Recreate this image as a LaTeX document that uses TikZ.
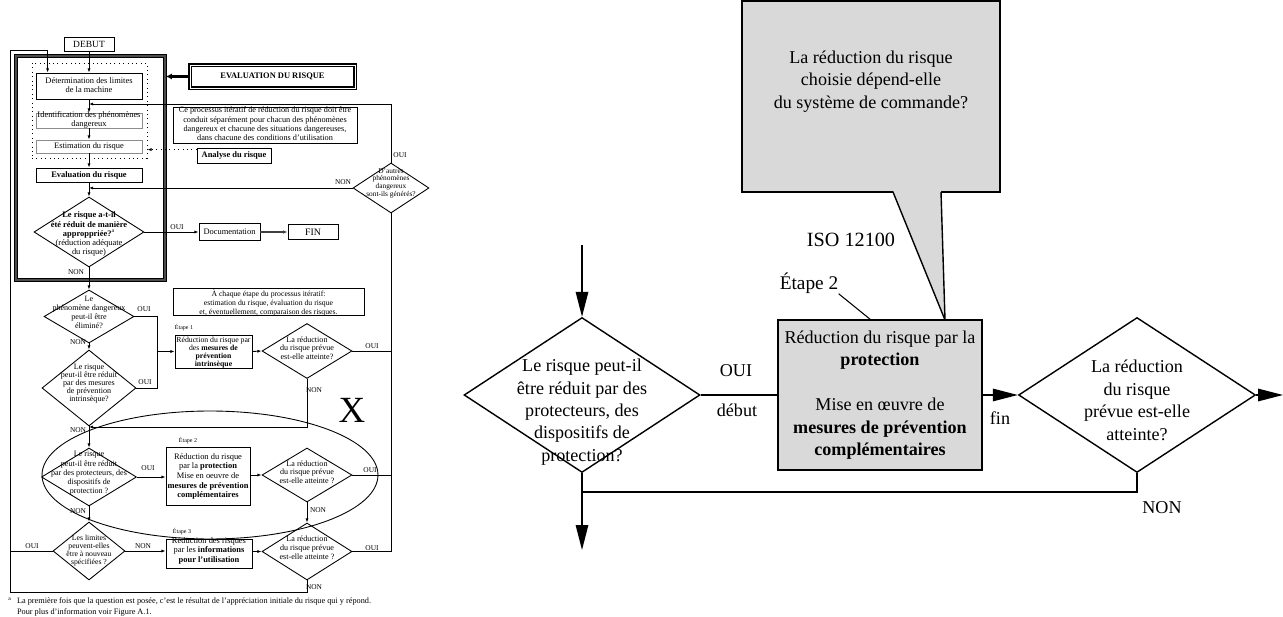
\documentclass[tikz,border=0pt]{standalone}
\usepackage{fontspec}
\setmainfont{Liberation Serif}
\usetikzlibrary{shapes.geometric,arrows.meta,calc}
\newcommand{\fsz}[2]{\fontsize{#1}{#2}\selectfont}
\newcommand{\dt}[2][0pt]{\smash{\makebox[0pt]{\raisebox{\dimexpr#1-0.25em\relax}{\begin{tabular}{@{}c@{}}#2\end{tabular}}}}}
\begin{document}
\begin{tikzpicture}[x=0.02cm,y=-0.02cm,
    every node/.style={inner sep=0pt},
    box/.style={draw,rectangle,line width=0.5pt,align=center},
    dia/.style={draw,diamond,line width=0.5pt},
    ln/.style={line width=0.5pt},
    ar/.style={line width=0.5pt,-{Latex[length=2.4pt,width=1.8pt]}},
    lab/.style={font=\fsz{4.2}{5}},
    stp/.style={font=\fsz{3.4}{4}},
    big/.style={font=\fsz{10.3}{12.8}},
    bln/.style={line width=0.8pt},
    bar/.style={line width=0.8pt,-{Triangle[length=0.5cm,width=0.25cm]}},
    greybox/.style={draw,fill=black!15,line width=0.8pt}]
  \useasboundingbox (0,0) rectangle (1283,617);

  %% left chart: analysis part
  \node[box,minimum width=1.0cm,minimum height=0.28cm,font=\fsz{5.4}{6}] (debut) at (89,44) {DEBUT};
  \node[draw,line width=0.9pt,double=black!70,double distance=0.7pt,minimum width=2.98cm,minimum height=4.48cm] (frame) at (90.5,168) {};
  \node[draw,dotted,line width=0.5pt,minimum width=2.3cm,minimum height=1.9cm] (anal) at (89.5,110.5) {};
  \node[box,minimum width=2.12cm,minimum height=0.52cm,font=\fsz{4.8}{5.4}] (b1) at (89,86) {\dt{Détermination des limites\\de la machine}};
  \node[box,draw=black!45,minimum width=2.12cm,minimum height=0.3cm,font=\fsz{4.8}{5.2}] (b2) at (89,120.5) {\dt{Identification des phénomènes\\dangereux}};
  \node[box,draw=black!45,minimum width=2.12cm,minimum height=0.26cm,font=\fsz{4.8}{5.4}] (b3) at (89,146.5) {Estimation du risque};
  \node[box,minimum width=2.12cm,minimum height=0.28cm,font=\bfseries\fsz{4.8}{5.4}] (b4) at (89,175) {Evaluation du risque};
  \node[draw,line width=0.7pt,double,double distance=0.5pt,minimum width=3.3cm,minimum height=0.46cm,font=\bfseries\fsz{4.8}{5.4}] (evalb) at (272.5,76.5) {EVALUATION DU RISQUE};
  \node[box,minimum width=3.68cm,minimum height=0.72cm,font=\fsz{4.7}{5.3}] (iter) at (265,125) {\dt{Ce processus itératif de réduction du risque doit être\\conduit séparément pour chacun des phénomènes\\dangereux et chacune des situations dangereuses,\\dans chacune des conditions d'utilisation}};
  \node[box,minimum width=1.48cm,minimum height=0.3cm,font=\bfseries\fsz{4.8}{5.4}] (analyse) at (234,155.5) {Analyse du risque};
  \draw[line width=1.4pt,-{Latex[length=3.5pt,width=3.5pt]}] (evalb.west) -- (frame.east |- evalb.west);
  \coordinate (dotA) at ([yshift=-0.04cm]analyse.north west);
  \draw[dotted,ar] (dotA) -- (anal.east |- dotA);
  \draw[ar] (debut) -- (b1);
  \draw[ar] (b1) -- (b2);
  \draw[ar] (b2) -- (b3);
  \draw[ar] (b3) -- (b4);

  %% left chart: decisions
  \node[dia,minimum width=1.52cm,minimum height=1.0cm,font=\fsz{4.2}{4.4}] (d0) at (391,188) {\dt[2.5pt]{D'autres\\phénomènes\\dangereux\\sont-ils générés?}};
  \node[dia,minimum width=2.2cm,minimum height=1.4cm,font=\fsz{4.8}{5.2}] (d1) at (89,232) {\dt[-1.4pt]{\textbf{Le risque a-t-il}\\\textbf{été réduit de manière}\\\textbf{approppriée?}\textsuperscript{a}\\(réduction adéquate\\du risque)}};
  \node[box,minimum width=1.22cm,minimum height=0.34cm,font=\fsz{4.8}{5.4}] (doc) at (229.5,232) {Documentation};
  \node[box,minimum width=1.0cm,minimum height=0.3cm,font=\fsz{5.6}{6}] (fin) at (313,232) {FIN};
  \draw[ar] (b4) -- (d1);
  \draw[ar] (d1.east) -- (doc.west);
  \draw[line width=1pt,black!75,-{Latex[length=2.6pt,width=2pt]}] (doc.east) -- (fin.west);
  \draw[ar] (d0.north) |- ($(b1.south)!0.35!(b2.north)$);
  \draw[ar] (d0.west) -- (b4.south |- d0.west);
  \node[lab] (oui0) at (400,155) {OUI};
  \node[lab] (non0) at (343,182) {NON};
  \node[lab] (oui1) at (177,227) {OUI};
  \node[lab] (non1) at (76,272) {NON};

  \node[dia,minimum width=1.8cm,minimum height=1.06cm,font=\fsz{4.6}{5.1}] (d2) at (89,316.5) {\dt[1.7pt]{Le\\phénomène dangereux\\peut-il être\\éliminé?}};
  \node[dia,minimum width=1.88cm,minimum height=1.52cm,font=\fsz{4.6}{4.2}] (d3) at (89,388) {\dt[2.3pt]{Le risque\\peut-il être réduit\\par des mesures\\de prévention\\intrinsèque?}};
  \draw[ar] (d1) -- (d2);
  \draw[ar] (d2) -- (d3);
  \node[lab] (oui2) at (144,309) {OUI};
  \node[lab] (non2) at (78,342) {NON};
  \node[lab] (oui3) at (145,382) {OUI};
  \node[box,minimum width=3.82cm,minimum height=0.54cm,font=\fsz{4.4}{5}] (chaque) at (268.5,301.5) {\dt[-1.4pt]{À chaque étape du processus itératif:\\estimation du risque, évaluation du risque\\et, éventuellement, comparaison des risques.}};

  %% step 1
  \coordinate (j1) at (157,351.5);
  \node[box,minimum width=1.54cm,minimum height=0.66cm,font=\fsz{4.4}{4.4}] (e1) at (213.5,351.5) {\dt[-1pt]{Réduction du risque par\\des \textbf{mesures de}\\\textbf{prévention}\\\textbf{intrinsèque}}};
  \node[stp] (s1) at (184,328) {Étape 1};
  \node[dia,minimum width=1.8cm,minimum height=1.1cm,font=\fsz{4.6}{5}] (r1) at (307,351) {\dt[1pt]{La réduction\\du risque prévue\\est-elle atteinte?}};
  \draw[ln] (d2.east) -| (j1);
  \draw[ln] (d3.east) -| (j1);
  \draw[ar] (j1) -- (e1.west);
  \draw[ar] (e1.east) -- (r1.west);
  \node[lab] (oui4) at (372,346) {OUI};
  \node[lab] (non4) at (314,390) {NON};
  \coordinate (j2) at (89,427);
  \draw[ar] (r1.south) |- (j2);
  \node[lab] (non3) at (78,430) {NON};
  \node[font=\fsz{21}{21}] (xmark) at (352,410) {X};

  %% step 2
  \draw[ln] (210,475) ellipse [x radius=3.36cm,y radius=1.28cm];
  \node[dia,minimum width=1.9cm,minimum height=1.16cm,font=\fsz{4.6}{5.2}] (d4) at (89,477) {\dt[2pt]{Le risque\\peut-il être réduit\\par des protecteurs, des\\dispositifs de\\protection ?}};
  \node[box,minimum width=1.68cm,minimum height=1.16cm,font=\fsz{4.8}{5.5}] (e2) at (208,476.5) {\dt{Réduction du risque\\par la \textbf{protection}\\Mise en oeuvre de\\\textbf{mesures de prévention}\\\textbf{complémentaires}}};
  \node[stp] (s2) at (188,441) {Étape 2};
  \node[dia,minimum width=1.8cm,minimum height=1.08cm,font=\fsz{4.6}{5}] (r2) at (307,475) {\dt[1pt]{La réduction\\du risque prévue\\est-elle atteinte ?}};
  \draw[ar] (d3) -- (d4);
  \draw[ar] (d4.east) -- (e2.west |- d4.east);
  \draw[ar] (e2.east |- r2.west) -- (r2.west);
  \node[lab] (oui5) at (148,468) {OUI};
  \node[lab] (oui6) at (370,470) {OUI};
  \node[lab] (non6) at (318,510) {NON};
  \node[lab] (non5) at (78,511) {NON};

  %% step 3
  \node[dia,minimum width=1.44cm,minimum height=1.16cm,font=\fsz{4.4}{4.6}] (d5) at (89,551) {\dt{Les limites\\peuvent-elles\\être à nouveau\\spécifiées ?}};
  \node[box,minimum width=1.72cm,minimum height=0.58cm,font=\fsz{4.8}{5.6}] (e3) at (209,553.5) {\dt[1.4pt]{Réduction des risques\\par les \textbf{informations}\\\textbf{pour l'utilisation}}};
  \node[stp] (s3) at (182,532) {Étape 3};
  \node[dia,minimum width=1.8cm,minimum height=1.14cm,font=\fsz{4.6}{5}] (r3) at (307,551.5) {\dt[1.4pt]{La réduction\\du risque prévue\\est-elle atteinte ?}};
  \draw[ar] (d4) -- (d5);
  \draw[ar] (d5.east) -- (e3.west |- d5.east);
  \draw[ar] (e3.east |- r3.west) -- (r3.west);
  \draw[ar] (r2) -- (r3);
  \node[lab] (oui7) at (32,546) {OUI};
  \node[lab] (non7) at (143,546) {NON};
  \node[lab] (oui8) at (372,548) {OUI};
  \node[lab] (non8) at (314,587) {NON};

  %% loops
  \coordinate (c1) at (10,592);
  \coordinate (c2) at (10,50);
  \coordinate (c3) at ([xshift=0.24cm]b1.north west);
  \draw[ar] (r3.south) |- (c1) -- (c2) -| (c3);
  \draw[ln] (d5.west) -- (d5.west -| c1);
  \draw[ln] (r3.east) -| (d0.south);
  \draw[ln] (r1.east) -- (r1.east -| d0.south);
  \draw[ln] (r2.east) -- (r2.east -| d0.south);

  \node[anchor=north west,align=left,font=\fsz{4.7}{6.2}] (fnote) at (8,597) {\textsuperscript{a}\hspace{3pt}La première fois que la question est posée, c'est le résultat de l'appréciation initiale du risque qui y répond.\\\hphantom{\textsuperscript{a}\hspace{3pt}}Pour plus d'information voir Figure A.1.};

  %% right chart
  \node[greybox,minimum width=5.16cm,minimum height=3.82cm] (ask) at (871,96.5) {};
  \node[big,align=center] (askt) at (871,81.5) {La réduction du risque\\choisie dépend-elle\\du système de commande?};
  \coordinate (tip) at (945,320);
  \fill[black!15] (893,190.5) -- (tip) -- (941,190.5) -- cycle;
  \draw[bln] (893,192) -- (tip) -- (941,192);
  \node[greybox,minimum width=4.08cm,minimum height=3.0cm,big,align=center] (prot) at (880,395) {Réduction du risque par la\\\textbf{protection}\\[12.8pt]Mise en œuvre de\\\textbf{mesures de prévention}\\\textbf{complémentaires}};
  \node[font=\fsz{11.5}{13}] (iso) at (851,240) {ISO 12100};
  \node[font=\fsz{11}{13}] (etp) at (809,283) {Étape 2};
  \coordinate (tick) at (871,320);
  \draw[line width=0.6pt] (etp.south east) -- (tick);

  \node[dia,bln,big,minimum width=4.72cm,minimum height=3.1cm] (q) at (582,395) {\dt[-9.6pt]{Le risque peut-il\\être réduit par des\\protecteurs, des\\dispositifs de\\protection?}};
  \node[dia,bln,big,minimum width=4.74cm,minimum height=3.1cm] (r) at (1137,395) {\dt[-4pt]{La réduction\\du risque\\prévue est-elle\\atteinte?}};
  \coordinate (qin) at (582,245);
  \coordinate (qout) at (582,550);
  \coordinate (rout) at (1283,395);
  \coordinate (back) at (582,492);
  \draw[bar] (qin) -- (q.north);
  \draw[bar] (q.south) -- (qout);
  \draw[bln] (q.east) -- (prot.west);
  \draw[bar] (prot.east) -- (r.west);
  \draw[bar] (r.east) -- (rout);
  \draw[bln] (r.south) |- (back);
  \node[big] (oui9) at (736,371) {OUI};
  \node[big] (deb) at (737,410) {début};
  \node[big] (fin2) at (1000,418) {fin};
  \node[big] (non9) at (1162,508) {NON};
\end{tikzpicture}
\end{document}
